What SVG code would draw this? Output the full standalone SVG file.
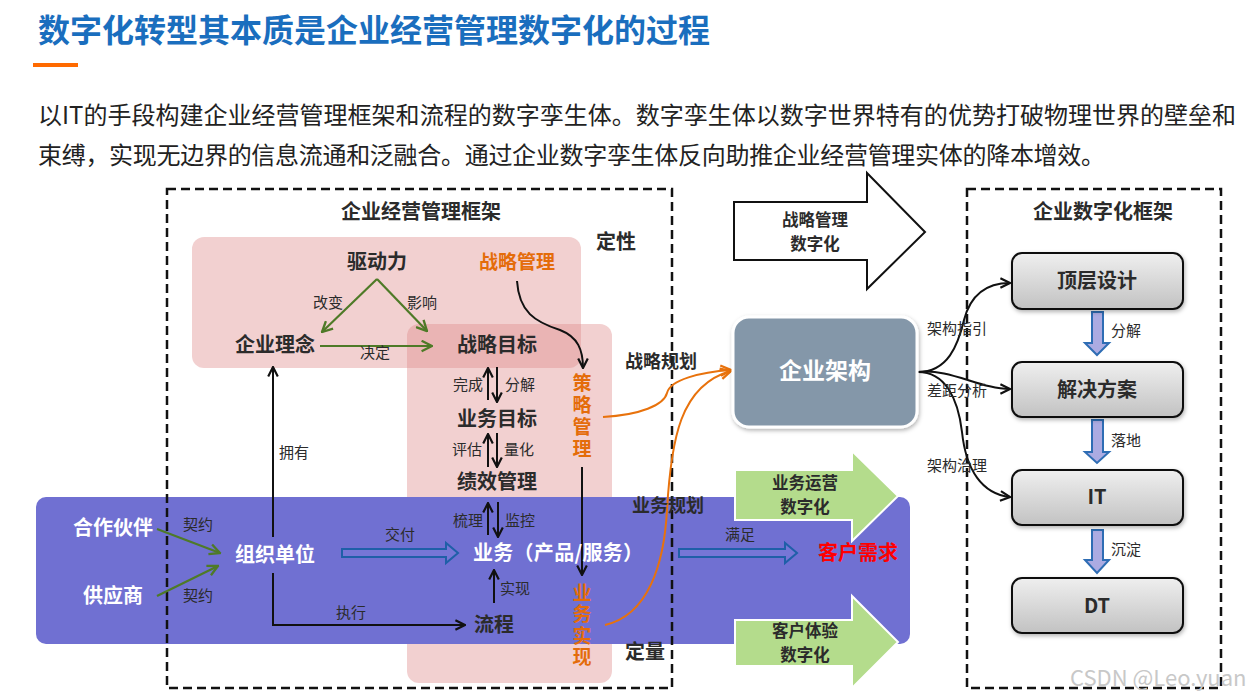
<svg xmlns="http://www.w3.org/2000/svg" width="1258" height="700" viewBox="0 0 1258 700">
<defs>
<style>
text { font-family: "Noto Sans CJK SC", "Noto Sans", "Liberation Sans", sans-serif; }
.b { font-weight: 700; }
.c { text-anchor: middle; }
.e { text-anchor: end; }
.dk { fill: #2b2b2b; }
.wt { fill: #ffffff; }
.or { fill: #E46C0A; }
.f20 { font-size: 20px; }
.f19 { font-size: 19px; }
.f18 { font-size: 18px; }
.f17 { font-size: 16.5px; }
.f15 { font-size: 15px; }
.vt { writing-mode: vertical-rl; }
.ln { fill: none; stroke: #111; stroke-width: 2; }
.gl { fill: none; stroke: #4E7A27; stroke-width: 2.2; }
.ol { fill: none; stroke: #E8720C; stroke-width: 2; }
.dash { fill: none; stroke: #111; stroke-width: 2.5; stroke-dasharray: 9 5; }
.pink { fill: rgb(222,138,138); fill-opacity: 0.4; }
.green { fill: #B4DC8C; stroke: #ffffff; stroke-width: 2; }
.box { fill: url(#gbox); stroke: #111; stroke-width: 2; }
.darr { fill: #ABABE2; stroke: #2E6DB4; stroke-width: 2; }
.harr { fill: #7676D6; stroke: #1F5FA8; stroke-width: 2; }
</style>
<linearGradient id="gbox" x1="0" y1="0" x2="0" y2="1">
<stop offset="0" stop-color="#EFEFEF"/>
<stop offset="1" stop-color="#C2C2C2"/>
</linearGradient>
<filter id="sh" x="-10%" y="-10%" width="130%" height="140%">
<feDropShadow dx="1" dy="2" stdDeviation="2" flood-color="#000" flood-opacity="0.3"/>
</filter>
<marker id="mk" viewBox="0 0 10 10" refX="9" refY="5" markerWidth="12" markerHeight="12" markerUnits="userSpaceOnUse" orient="auto">
<path d="M1,1 L9,5 L1,9" fill="none" stroke="#111" stroke-width="1.8"/>
</marker>
<marker id="mg" viewBox="0 0 10 10" refX="9" refY="5" markerWidth="13" markerHeight="13" markerUnits="userSpaceOnUse" orient="auto">
<path d="M1,1 L9,5 L1,9" fill="none" stroke="#4E7A27" stroke-width="1.8"/>
</marker>
<marker id="mo" viewBox="0 0 10 10" refX="9" refY="5" markerWidth="13" markerHeight="13" markerUnits="userSpaceOnUse" orient="auto">
<path d="M1,1 L9,5 L1,9" fill="none" stroke="#E8720C" stroke-width="1.8"/>
</marker>
</defs>

<rect width="1258" height="700" fill="#ffffff"/>

<g id="title">
<text x="38" y="42" class="b" font-size="32" fill="#1A6EBE">数字化转型其本质是企业经营管理数字化的过程</text>
<rect x="33" y="63" width="45" height="4" fill="#FF6A00"/>
<text x="38" y="124" font-size="24" fill="#222" textLength="1198">以IT的手段构建企业经营管理框架和流程的数字孪生体。数字孪生体以数字世界特有的优势打破物理世界的壁垒和</text>
<text x="38" y="164" font-size="24" fill="#222" textLength="1067">束缚，实现无边界的信息流通和泛融合。通过企业数字孪生体反向助推企业经营管理实体的降本增效。</text>
</g>

<g id="regions">
<rect x="192" y="237" width="389" height="131" rx="12" class="pink"/>
<rect x="407" y="324" width="205" height="359" rx="12" class="pink"/>
<rect x="36" y="497" width="874" height="147" rx="10" fill="#7070D2"/>
</g>

<g id="green-arrows">
<g id="arrow-biz-ops">
<path d="M735,470 L852,470 L852,451 L898,496 L852,541 L852,520 L735,520 Z" class="green"/>
<text class="b c dk f17"><tspan x="805" y="489">业务运营</tspan><tspan x="805" y="513">数字化</tspan></text>
</g>
<g id="arrow-cx">
<path d="M735,620 L852,620 L852,596 L898,642 L852,688 L852,666 L735,666 Z" class="green"/>
<text class="b c dk f17"><tspan x="805" y="637">客户体验</tspan><tspan x="805" y="661">数字化</tspan></text>
</g>
</g>

<g id="arrow-strategy">
<path d="M734,202 L867,202 L867,173 L925,232 L867,289 L867,260 L734,260 Z" fill="#ffffff" stroke="#111" stroke-width="2"/>
<text class="b c dk f17"><tspan x="815" y="226">战略管理</tspan><tspan x="815" y="250">数字化</tspan></text>
</g>

<g id="frames">
<rect x="167" y="189" width="505" height="499" class="dash"/>
<rect x="967" y="189" width="254" height="499" class="dash"/>
<text x="421" y="219" class="b c dk f20">企业经营管理框架</text>
<text x="1103" y="219" class="b c dk f20">企业数字化框架</text>
<text x="616" y="249" class="b c dk f20">定性</text>
<text x="645" y="659" class="b c dk f20">定量</text>
</g>

<g id="connectors">
<line x1="377" y1="279" x2="322" y2="332" class="gl" marker-end="url(#mg)"/>
<line x1="377" y1="279" x2="427" y2="331" class="gl" marker-end="url(#mg)"/>
<line x1="320" y1="346" x2="432" y2="346" class="gl" marker-end="url(#mg)"/>
<line x1="157" y1="529" x2="220" y2="553" class="gl" marker-end="url(#mg)"/>
<line x1="157" y1="596" x2="218" y2="566" class="gl" marker-end="url(#mg)"/>

<path d="M517,281 C519,312 535,322 560,330 C578,337 583,350 583,368" class="ln" marker-end="url(#mk)"/>
<line x1="582" y1="467" x2="582" y2="575" class="ln" marker-end="url(#mk)"/>

<line x1="488" y1="400" x2="488" y2="368" class="ln" marker-end="url(#mk)"/>
<line x1="497" y1="367" x2="497" y2="402" class="ln" marker-end="url(#mk)"/>
<line x1="488" y1="467" x2="488" y2="434" class="ln" marker-end="url(#mk)"/>
<line x1="497" y1="433" x2="497" y2="467" class="ln" marker-end="url(#mk)"/>
<line x1="488" y1="535" x2="488" y2="503" class="ln" marker-end="url(#mk)"/>
<line x1="498" y1="502" x2="498" y2="537" class="ln" marker-end="url(#mk)"/>
<line x1="494" y1="603" x2="494" y2="570" class="ln" marker-end="url(#mk)"/>

<line x1="273" y1="537" x2="273" y2="367" class="ln" marker-end="url(#mk)"/>
<path d="M273,573 L273,625 L465,625" class="ln" marker-end="url(#mk)"/>

<path d="M342,549 L446,549 L446,543 L458,553 L446,563 L446,557 L342,557 Z" class="harr"/>
<path d="M679,549 L785,549 L785,543 L797,553 L785,563 L785,557 L679,557 Z" class="harr"/>

<path d="M603,417 C640,415 664,405 667,393 C670,380 700,372 731,370" class="ol" marker-end="url(#mo)"/>
<path d="M605,625 C648,615 664,565 667,510 C671,440 680,385 731,371" class="ol" marker-end="url(#mo)"/>

<path d="M918,372 C948,372 958,345 964,320 C971,293 988,283 1010,283" class="ln" marker-end="url(#mk)"/>
<path d="M918,372 C950,368 980,389 1010,389" class="ln" marker-end="url(#mk)"/>
<path d="M918,372 C945,372 958,398 962,432 C966,470 982,494 1010,497" class="ln" marker-end="url(#mk)"/>

<path d="M1092,312 L1103,312 L1103,343 L1109,343 L1097,355 L1085,343 L1092,343 Z" class="darr"/>
<path d="M1092,420 L1103,420 L1103,452 L1109,452 L1097,463 L1085,452 L1092,452 Z" class="darr"/>
<path d="M1092,530 L1103,530 L1103,560 L1109,560 L1097,573 L1085,560 L1092,560 Z" class="darr"/>

<text x="328" y="308" class="c dk f15">改变</text>
<text x="422" y="308" class="c dk f15">影响</text>
<text x="375" y="358" class="c dk f15">决定</text>
<text x="483" y="390" class="e dk f15">完成</text>
<text x="505" y="390" class="dk f15">分解</text>
<text x="482" y="455" class="e dk f15">评估</text>
<text x="504" y="455" class="dk f15">量化</text>
<text x="483" y="526" class="e dk f15">梳理</text>
<text x="505" y="526" class="dk f15">监控</text>
<text x="500" y="594" class="dk f15">实现</text>
<text x="279" y="458" class="dk f15">拥有</text>
<text x="351" y="618" class="c dk f15">执行</text>
<text x="198" y="530" class="c dk f15">契约</text>
<text x="198" y="601" class="c dk f15">契约</text>
<text x="400" y="540" class="c dk f15">交付</text>
<text x="740" y="540" class="c dk f15">满足</text>
<text x="661" y="368" class="b c dk f18">战略规划</text>
<text x="668" y="512" class="b c dk f18">业务规划</text>
<text x="927" y="334" class="dk f15">架构指引</text>
<text x="927" y="396" class="dk f15">差距分析</text>
<text x="927" y="471" class="dk f15">架构治理</text>
<text x="1111" y="336" class="dk f15">分解</text>
<text x="1111" y="446" class="dk f15">落地</text>
<text x="1111" y="555" class="dk f15">沉淀</text>
</g>

<g id="node-driver"><text x="377" y="269" class="b c dk f20">驱动力</text></g>
<g id="node-strategy-mgmt"><text x="517" y="269" class="b c or f19">战略管理</text></g>
<g id="node-philosophy"><text x="275" y="352" class="b c dk f20">企业理念</text></g>
<g id="node-strategy-goal"><text x="497" y="352" class="b c dk f20">战略目标</text></g>
<g id="node-biz-goal"><text x="497" y="426" class="b c dk f20">业务目标</text></g>
<g id="node-perf"><text x="497" y="489" class="b c dk f20">绩效管理</text></g>
<g id="node-business"><text x="473" y="560" class="b wt f20" textLength="170">业务（产品/服务）</text></g>
<g id="node-process"><text x="494" y="632" class="b c dk f20">流程</text></g>
<g id="node-org"><text x="275" y="562" class="b c wt f20">组织单位</text></g>
<g id="node-partner"><text x="113" y="535" class="b c wt f20">合作伙伴</text></g>
<g id="node-supplier"><text x="113" y="603" class="b c wt f20">供应商</text></g>
<g id="node-customer"><text x="858" y="560" class="b c f20" fill="#FF0000">客户需求</text></g>
<g id="node-tactic"><text x="582" y="373" class="b or f19 vt" letter-spacing="3">策略管理</text></g>
<g id="node-realize"><text x="582" y="583" class="b or f19 vt" letter-spacing="2.5">业务实现</text></g>

<g id="node-ea">
<rect x="733" y="317" width="184" height="110" rx="16" fill="#8497A9" stroke="#ffffff" stroke-width="3" filter="url(#sh)"/>
<text x="825" y="379" class="b c wt" font-size="23">企业架构</text>
</g>

<g id="node-top-design">
<rect x="1012" y="253" width="171" height="56" rx="10" class="box" filter="url(#sh)"/>
<text x="1097" y="288" class="b c dk f20">顶层设计</text>
</g>
<g id="node-solution">
<rect x="1012" y="362" width="171" height="55" rx="10" class="box" filter="url(#sh)"/>
<text x="1097" y="397" class="b c dk f20">解决方案</text>
</g>
<g id="node-it">
<rect x="1012" y="470" width="171" height="55" rx="10" class="box" filter="url(#sh)"/>
<text x="1097" y="504" class="b c dk f20">IT</text>
</g>
<g id="node-dt">
<rect x="1012" y="578" width="171" height="55" rx="10" class="box" filter="url(#sh)"/>
<text x="1097" y="613" class="b c dk f20">DT</text>
</g>

<text x="1070" y="686" font-family="Liberation Sans, sans-serif" font-size="22" fill="#c8c8c8">CSDN @Leo.yuan</text>
</svg>
